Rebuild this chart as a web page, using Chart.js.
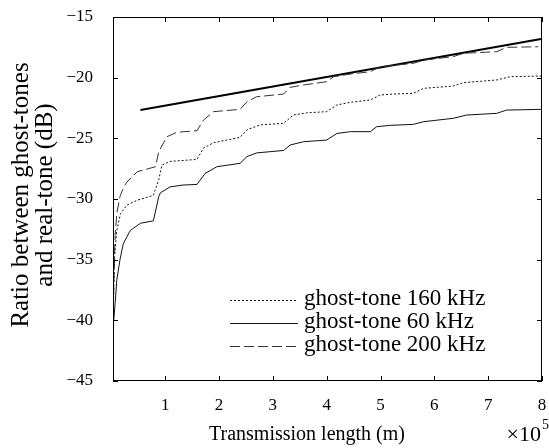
<!DOCTYPE html>
<html>
<head>
<meta charset="utf-8">
<script src="https://cdn.jsdelivr.net/npm/chart.js@4.4.1/dist/chart.umd.min.js"></script>
<style>
  html, body { margin: 0; padding: 0; background: #fff; }
</style>
</head>
<body>
<canvas id="chart" width="549" height="448"></canvas>
<script>
const SERIF = "'Liberation Serif', 'Times New Roman', serif";

// tick labels
const xTicks = [1, 2, 3, 4, 5, 6, 7, 8];
const yTicks = [-45, -40, -35, -30, -25, -20, -15];

// ghost-tone 60 kHz (thin solid)
const x60 = [0.04, 0.07, 0.1, 0.16, 0.22, 0.35, 0.54, 0.78, 0.88, 0.91, 1.09, 1.33, 1.59, 1.74, 1.96, 2.39, 2.52, 2.7, 3.2, 3.32, 3.57, 4.0, 4.19, 4.44, 4.81, 4.93, 5.18, 5.61, 5.8, 6.35, 6.6, 7.16, 7.34, 8.0];
const y60 = [-40.2, -38.6, -36.7, -35.0, -33.7, -32.6, -32.0, -31.8, -29.8, -29.5, -29.0, -28.85, -28.8, -27.9, -27.34, -27.06, -26.5, -26.2, -26.0, -25.55, -25.28, -25.14, -24.6, -24.45, -24.45, -24.04, -23.93, -23.85, -23.63, -23.35, -23.08, -22.94, -22.67, -22.61];

// ghost-tone 160 kHz (dotted)
const x160 = [0.04, 0.055, 0.1, 0.17, 0.29, 0.48, 0.78, 0.88, 0.94, 1.09, 1.59, 1.71, 1.9, 2.39, 2.52, 2.76, 3.2, 3.38, 3.63, 4.0, 4.19, 4.44, 4.81, 4.99, 5.24, 5.61, 5.8, 6.35, 6.54, 7.16, 7.41, 8.0];
const y160 = [-38.5, -34.8, -32.6, -31.2, -30.5, -30.1, -29.7, -28.4, -27.2, -26.9, -26.74, -25.8, -25.36, -24.92, -24.3, -23.9, -23.76, -23.08, -22.9, -22.8, -22.25, -22.03, -21.84, -21.43, -21.35, -21.29, -20.88, -20.69, -20.41, -20.19, -19.92, -19.86];

// ghost-tone 200 kHz (dashed)
const x200 = [0.04, 0.07, 0.1, 0.16, 0.23, 0.29, 0.48, 0.82, 0.88, 1.03, 1.22, 1.59, 1.71, 1.9, 2.39, 2.52, 2.7, 3.2, 3.32, 3.57, 4.0, 4.13, 4.44, 4.81, 4.99, 5.61, 5.8, 6.35, 6.54, 7.16, 7.34, 7.93];
const y200 = [-38.0, -33.0, -31.2, -29.8, -29.0, -28.6, -27.75, -27.34, -26.1, -24.87, -24.5, -24.37, -23.5, -22.8, -22.61, -21.98, -21.57, -21.35, -20.8, -20.6, -20.33, -19.92, -19.7, -19.51, -19.1, -18.82, -18.55, -18.27, -17.99, -17.86, -17.5, -17.45];

// thick straight line
const xFit = [0.54, 7.98];
const yFit = [-22.67, -16.81];

const pts = (xs, ys) => xs.map((x, i) => ({ x: x, y: ys[i] }));

// box with inward ticks on all four sides
const framePlugin = {
  id: 'frame',
  afterDatasetsDraw(chart) {
    const { ctx, chartArea: a, scales } = chart;
    const len = 5;
    ctx.save();
    ctx.strokeStyle = '#000';
    ctx.lineWidth = 1;
    ctx.strokeRect(a.left + 0.5, a.top + 0.5, a.right - a.left - 1, a.bottom - a.top - 1);
    ctx.beginPath();
    xTicks.forEach(v => {
      const px = Math.round(scales.x.getPixelForValue(v)) + 0.5;
      ctx.moveTo(px, a.bottom); ctx.lineTo(px, a.bottom - len);
      ctx.moveTo(px, a.top); ctx.lineTo(px, a.top + len);
    });
    yTicks.forEach(v => {
      const py = Math.round(scales.y.getPixelForValue(v)) + 0.5;
      ctx.moveTo(a.left, py); ctx.lineTo(a.left + len, py);
      ctx.moveTo(a.right, py); ctx.lineTo(a.right - len, py);
    });
    ctx.stroke();
    ctx.restore();
  }
};

// legend inside the plot, lower middle
const legendPlugin = {
  id: 'innerLegend',
  afterDraw(chart) {
    const { ctx, chartArea: a } = chart;
    const items = chart.data.datasets.filter(d => d.label);
    ctx.save();
    ctx.font = '23px ' + SERIF;
    ctx.fillStyle = '#000';
    ctx.textBaseline = 'middle';
    items.forEach((d, i) => {
      const y = a.top + 283 + i * 23;
      const x0 = a.left + 117;
      ctx.beginPath();
      ctx.strokeStyle = d.borderColor;
      ctx.lineWidth = d.borderWidth;
      ctx.setLineDash(d.borderDash || []);
      ctx.moveTo(x0, y + 0.5);
      ctx.lineTo(x0 + 68, y + 0.5);
      ctx.stroke();
      ctx.setLineDash([]);
      ctx.fillText(d.label, x0 + 74, y - 1);
    });
    ctx.restore();
  }
};

// axis titles
const titlePlugin = {
  id: 'titles',
  afterDraw(chart) {
    const { ctx } = chart;
    ctx.save();
    ctx.fillStyle = '#000';
    ctx.font = '20px ' + SERIF;
    ctx.textAlign = 'center';
    ctx.textBaseline = 'alphabetic';
    ctx.fillText('Transmission length (m)', 307, 440);
    ctx.textAlign = 'right';
    ctx.font = '22px ' + SERIF;
    ctx.fillText('\u00d710', 541, 441);
    ctx.textAlign = 'left';
    ctx.font = '14px ' + SERIF;
    ctx.fillText('5', 542, 429);

    ctx.font = '25px ' + SERIF;
    ctx.textAlign = 'center';
    ctx.textBaseline = 'alphabetic';
    ctx.translate(0, 195);
    ctx.rotate(-Math.PI / 2);
    ctx.fillText('Ratio between ghost-tones', 0, 28);
    ctx.fillText('and real-tone (dB)', 0, 52);
    ctx.restore();
  }
};

new Chart(document.getElementById('chart'), {
  type: 'line',
  data: {
    datasets: [
      { label: 'ghost-tone 160 kHz', data: pts(x160, y160), borderColor: '#111', borderWidth: 1, borderDash: [2, 2] },
      { label: 'ghost-tone 60 kHz', data: pts(x60, y60), borderColor: '#111', borderWidth: 1 },
      { label: 'ghost-tone 200 kHz', data: pts(x200, y200), borderColor: '#333', borderWidth: 1, borderDash: [10, 4] },
      { label: '', data: pts(xFit, yFit), borderColor: '#000', borderWidth: 2 }
    ]
  },
  options: {
    responsive: false,
    animation: false,
    devicePixelRatio: 1,
    elements: { point: { radius: 0 }, line: { tension: 0 } },
    layout: { padding: { top: 17, right: 7, left: 0, bottom: 0 } },
    plugins: { legend: { display: false }, tooltip: { enabled: false } },
    scales: {
      x: {
        type: 'linear',
        min: 0.03,
        max: 8,
        afterBuildTicks: s => { s.ticks = xTicks.map(v => ({ value: v })); },
        afterFit: s => { s.height = 67; s.paddingLeft = 0; s.paddingRight = 0; },
        grid: { display: false, drawTicks: false },
        border: { display: false },
        ticks: {
          padding: 14, color: '#000', autoSkip: false, maxRotation: 0,
          font: { family: SERIF, size: 17 },
          callback: v => String(v)
        }
      },
      y: {
        type: 'linear',
        min: -45,
        max: -15,
        afterBuildTicks: s => { s.ticks = yTicks.map(v => ({ value: v })); },
        afterFit: s => { s.width = 113; s.paddingTop = 0; s.paddingBottom = 0; },
        grid: { display: false, drawTicks: false },
        border: { display: false },
        ticks: {
          padding: 20, color: '#000',
          font: { family: SERIF, size: 17 },
          callback: v => '\u2212' + Math.abs(v)
        }
      }
    }
  },
  plugins: [framePlugin, legendPlugin, titlePlugin]
});
</script>
</body>
</html>
